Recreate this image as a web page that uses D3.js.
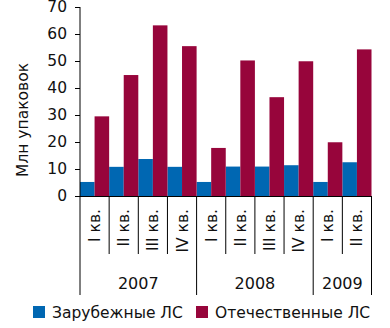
<!DOCTYPE html>
<html><head><meta charset="utf-8">
<script src="https://cdn.jsdelivr.net/npm/d3@7"></script>
<style>body{margin:0;background:#fff}svg{display:block;font-family:"DejaVu Sans",sans-serif}</style>
</head><body><svg id="c" width="390" height="328"></svg>
<script>
const quarters = ["I кв.","II кв.","III кв.","IV кв.","I кв.","II кв.","III кв.","IV кв.","I кв.","II кв."];
const years = ["2007","2008","2009"];
const yearSpans = [4,4,2];
const foreign = [5.2,10.8,13.7,10.8,5.2,10.9,10.9,11.4,5.2,12.5];
const domestic = [29.5,44.8,63.2,55.5,17.8,50.2,36.6,49.9,19.9,54.3];
const seriesNames = ["Зарубежные ЛС","Отечественные ЛС"];
const colors = ["#0067B2","#97053B"];
const yTicks = [0,10,20,30,40,50,60,70];

(function(){
const svg = d3.select("#c");
const L = 80, R = 371.5, T = 7, B = 196;
const idx = d3.range(quarters.length);
const x = d3.scaleBand().domain(idx).range([L,R]).padding(0);
const xs = d3.scaleBand().domain([0,1]).range([0,x.bandwidth()]).padding(0);
const y = d3.scaleLinear().domain([0,70]).range([B,T]);

const g = svg.append("g");
[foreign,domestic].forEach((arr,si)=>{
  g.selectAll(".b"+si).data(arr).join("rect")
   .attr("x",(d,i)=>x(i)+xs(si)).attr("width",xs.bandwidth())
   .attr("y",d=>y(d)).attr("height",d=>y(0)-y(d)).attr("fill",colors[si]);
});

const ya = svg.append("g").attr("transform",`translate(${L},0)`)
  .call(d3.axisLeft(y).tickValues(yTicks).tickSize(5).tickPadding(8));
ya.select(".domain").remove();
ya.selectAll("line").attr("stroke","#000");
ya.selectAll("text").attr("font-size",15.5).attr("fill","#111").attr("font-family","DejaVu Sans");
svg.append("line").attr("x1",L).attr("x2",L).attr("y1",T).attr("y2",295).attr("stroke","#000");
svg.append("line").attr("x1",L).attr("x2",R).attr("y1",B+0.5).attr("y2",B+0.5).attr("stroke","#000");

const cum = [0]; yearSpans.forEach(s=>cum.push(cum[cum.length-1]+s));
idx.slice(1).concat([quarters.length]).forEach(i=>{
  const xx = i===quarters.length ? R : x(i);
  const isYear = cum.includes(i);
  svg.append("line").attr("x1",xx).attr("x2",xx).attr("y1",B).attr("y2",isYear?295:254).attr("stroke","#000");
});
svg.selectAll(".q").data(quarters).join("text")
  .attr("transform",(d,i)=>`translate(${x(i)+x.bandwidth()/2+5.5},209) rotate(-90)`)
  .attr("text-anchor","end").attr("font-size",15.5).attr("fill","#111").text(d=>d);
svg.selectAll(".yr").data(years).join("text")
  .attr("x",(d,i)=>{const a=x(cum[i]); const b=cum[i+1]===quarters.length?R:x(cum[i+1]); return (a+b)/2;})
  .attr("y",289).attr("text-anchor","middle").attr("font-size",16).attr("fill","#111").text(d=>d);
svg.append("text").attr("transform","translate(28,120) rotate(-90)").attr("text-anchor","middle")
  .attr("font-size",15.5).attr("fill","#111").text("Млн упаковок");
const lg = [{x:33,tx:52},{x:196,tx:215}];
seriesNames.forEach((n,i)=>{
  svg.append("rect").attr("x",lg[i].x).attr("y",306).attr("width",12).attr("height",12).attr("fill",colors[i]);
  svg.append("text").attr("x",lg[i].tx).attr("y",318).attr("font-size",15.5).attr("fill","#111").text(n);
});
})();
</script></body></html>
